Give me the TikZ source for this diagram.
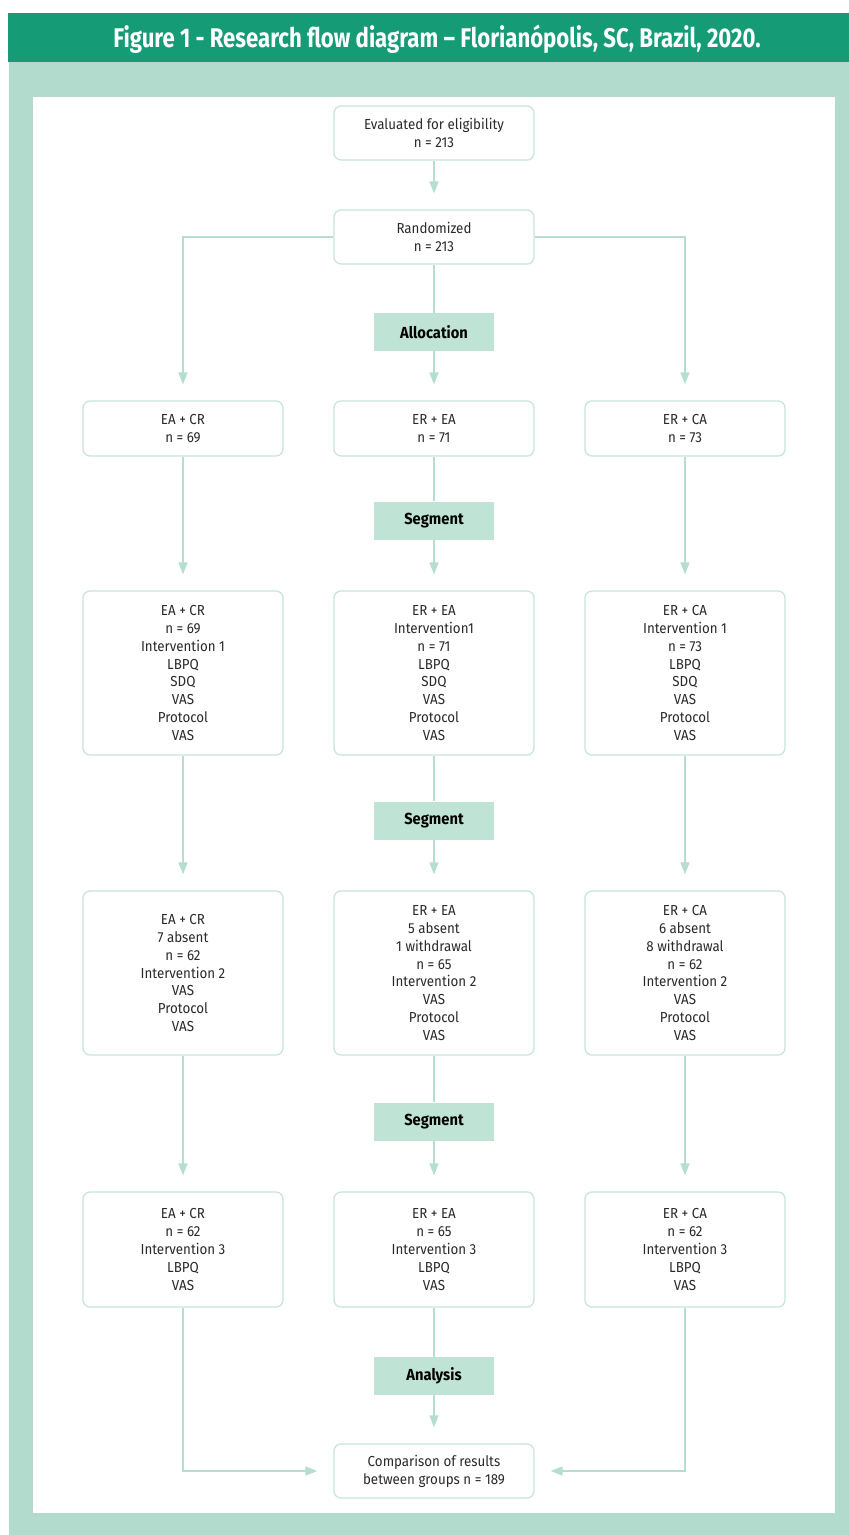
\documentclass[tikz,border=0pt]{standalone}
\usepackage{fontspec}
\setmainfont{Fira Sans}[FakeStretch=0.92]
\newfontfamily\headfont{Fira Sans}[FakeStretch=0.82]
\usetikzlibrary{arrows.meta}
\definecolor{headc}{HTML}{159B76}
\definecolor{panelc}{HTML}{B3DBCD}
\definecolor{boxc}{HTML}{C8E6DA}
\definecolor{linec}{HTML}{B6DECF}
\definecolor{labc}{HTML}{BFE3D5}
\definecolor{txt}{HTML}{2A2A2A}
\begin{document}
\begin{tikzpicture}[x=1pt,y=-1pt,
  box/.style={draw=boxc, line width=1.3pt, rounded corners=7pt, fill=white, minimum width=200pt, align=center, font=\fontsize{14.5}{17.8}\selectfont, text=txt, inner sep=0pt},
  lab/.style={fill=labc, minimum width=120pt, minimum height=38pt, font=\bfseries\fontsize{16}{18}\selectfont, inner sep=0pt, text=black},
  conn/.style={draw=linec, line width=1.5pt},
  arr/.style={conn, -{Triangle[width=9pt,length=12pt]}, shorten >=16pt},
]
\useasboundingbox (0,0) rectangle (849,1535);
\fill[white] (0,0) rectangle (849,1535);
\fill[headc] (8,13) rectangle (849,62);
\fill[panelc] (9,62) rectangle (849,1535);
\fill[white] (33,97) rectangle (835,1513);
\node[font=\headfont\bfseries\fontsize{27}{30}\selectfont, text=white] (title) at (437,39) {Figure 1 - Research flow diagram – Florianópolis, SC, Brazil, 2020.};

\node[box, minimum height=54pt] (eval) at (434,133) {Evaluated for eligibility\\n = 213};
\node[box, minimum height=54pt] (rand) at (434,237) {Randomized\\n = 213};
\node[lab] (alloc) at (434,332) {Allocation};

\node[box, minimum height=55pt] (r1l) at (183,428.5) {EA + CR\\n = 69};
\node[box, minimum height=55pt] (r1m) at (434,428.5) {ER + EA\\n = 71};
\node[box, minimum height=55pt] (r1r) at (685,428.5) {ER + CA\\n = 73};
\node[lab] (seg1) at (434,520.5) {Segment};

\node[box, minimum height=164pt] (r2l) at (183,673) {EA + CR\\n = 69\\Intervention 1\\LBPQ\\SDQ\\VAS\\Protocol\\VAS};
\node[box, minimum height=164pt] (r2m) at (434,673) {ER + EA\\Intervention1\\n = 71\\LBPQ\\SDQ\\VAS\\Protocol\\VAS};
\node[box, minimum height=164pt] (r2r) at (685,673) {ER + CA\\Intervention 1\\n = 73\\LBPQ\\SDQ\\VAS\\Protocol\\VAS};
\node[lab] (seg2) at (434,820.5) {Segment};

\node[box, minimum height=164pt] (r3l) at (183,973) {EA + CR\\7 absent\\n = 62\\Intervention 2\\VAS\\Protocol\\VAS};
\node[box, minimum height=164pt] (r3m) at (434,973) {ER + EA\\5 absent\\1 withdrawal\\n = 65\\Intervention 2\\VAS\\Protocol\\VAS};
\node[box, minimum height=164pt] (r3r) at (685,973) {ER + CA\\6 absent\\8 withdrawal\\n = 62\\Intervention 2\\VAS\\Protocol\\VAS};
\node[lab] (seg3) at (434,1121.5) {Segment};

\node[box, minimum height=115pt] (r4l) at (183,1249.5) {EA + CR\\n = 62\\Intervention 3\\LBPQ\\VAS};
\node[box, minimum height=115pt] (r4m) at (434,1249.5) {ER + EA\\n = 65\\Intervention 3\\LBPQ\\VAS};
\node[box, minimum height=115pt] (r4r) at (685,1249.5) {ER + CA\\n = 62\\Intervention 3\\LBPQ\\VAS};
\node[lab] (ana) at (434,1376) {Analysis};

\node[box, minimum height=54pt] (final) at (434,1471) {Comparison of results\\between groups n = 189};

\draw[arr] (eval) -- (rand);
\draw[conn] (rand) -- (alloc);
\draw[arr] (alloc) -- (r1m);
\draw[arr] (rand.west) -| (r1l.north);
\draw[arr] (rand.east) -| (r1r.north);

\draw[arr] (r1l) -- (r2l);
\draw[conn] (r1m) -- (seg1);
\draw[arr] (seg1) -- (r2m);
\draw[arr] (r1r) -- (r2r);

\draw[arr] (r2l) -- (r3l);
\draw[conn] (r2m) -- (seg2);
\draw[arr] (seg2) -- (r3m);
\draw[arr] (r2r) -- (r3r);

\draw[arr] (r3l) -- (r4l);
\draw[conn] (r3m) -- (seg3);
\draw[arr] (seg3) -- (r4m);
\draw[arr] (r3r) -- (r4r);

\draw[arr] (r4l.south) |- (final.west);
\draw[conn] (r4m) -- (ana);
\draw[arr] (ana) -- (final);
\draw[arr] (r4r.south) |- (final.east);
\end{tikzpicture}
\end{document}
